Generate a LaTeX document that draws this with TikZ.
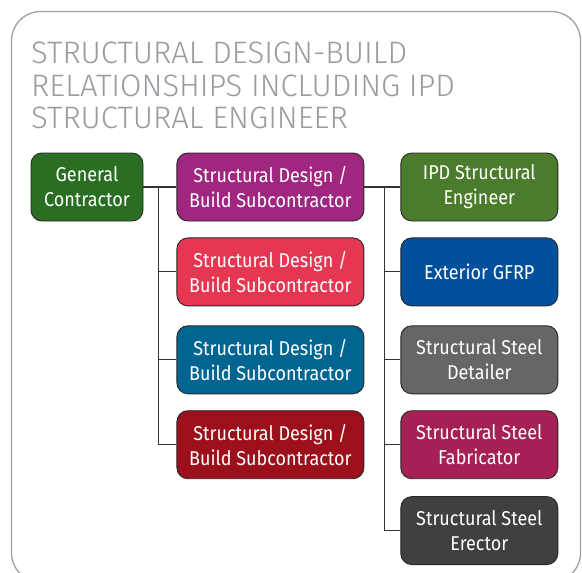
\documentclass[tikz,border=0pt]{standalone}
\usepackage{fontspec}
\setmainfont{Fira Sans}
\IfFontExistsTF{Fira Sans Light}
  {\newfontfamily\headfont{Fira Sans Light}}
  {\newfontfamily\headfont{Fira Sans}}
\newfontfamily\boxfont[FakeStretch=0.9]{Fira Sans}
\usetikzlibrary{positioning}
\definecolor{framegray}{RGB}{160,160,162}
\definecolor{headgray}{RGB}{153,155,160}
\definecolor{edgedark}{RGB}{40,40,40}
\definecolor{linkdark}{RGB}{50,50,50}
\definecolor{gcgreen}{RGB}{42,110,36}
\definecolor{subpurple}{RGB}{160,38,128}
\definecolor{subrose}{RGB}{229,54,82}
\definecolor{subteal}{RGB}{0,101,145}
\definecolor{subcrimson}{RGB}{155,16,26}
\definecolor{ipdgreen}{RGB}{74,124,43}
\definecolor{gfrpblue}{RGB}{0,80,155}
\definecolor{detgray}{RGB}{102,102,104}
\definecolor{fabwine}{RGB}{165,32,84}
\definecolor{ereccoal}{RGB}{64,64,66}

\begin{document}
\begin{tikzpicture}[
  x=1pt, y=-1pt,
  box/.style={draw=edgedark, line width=0.9pt, rounded corners=11pt,
              minimum height=68pt, inner sep=0pt, align=center,
              text=white, font=\boxfont\fontsize{20}{25}\selectfont},
  gcbox/.style={box, minimum width=112pt},
  subbox/.style={box, minimum width=187pt},
  tradebox/.style={box, minimum width=157pt},
  link/.style={draw=linkdark, line width=1.1pt}
]
\useasboundingbox (0,0) rectangle (582,573);
\draw[framegray, line width=1.3pt, rounded corners=29pt]
  (11.5,11.5) rectangle (580.5,582);

\node[anchor=north west, inner sep=0pt, align=left, text=headgray,
      font=\headfont\fontsize{31}{32.5}\selectfont] (title) at (31,42)
  {STRUCTURAL DESIGN-BUILD\\RELATIONSHIPS INCLUDING IPD\\STRUCTURAL ENGINEER};

% general contractor and the four design/build subs
\node[gcbox, fill=gcgreen] (gc) at (87,187) {General\\Contractor};
\node[subbox, fill=subpurple, right=33pt of gc] (sub1)
  {Structural Design /\\Build Subcontractor};
\node[subbox, fill=subrose, below=16pt of sub1] (sub2)
  {Structural Design /\\Build Subcontractor};
\node[subbox, fill=subteal, below=19pt of sub2] (sub3)
  {Structural Design /\\Build Subcontractor};
\node[subbox, fill=subcrimson, below=16pt of sub3] (sub4)
  {Structural Design /\\Build Subcontractor};

% trades under the first sub
\node[tradebox, fill=ipdgreen, right=36pt of sub1] (ipd)
  {IPD Structural\\Engineer};
\node[tradebox, fill=gfrpblue, below=16pt of ipd] (gfrp) {Exterior GFRP};
\node[tradebox, fill=detgray, below=19pt of gfrp] (detail)
  {Structural Steel\\Detailer};
\node[tradebox, fill=fabwine, below=16pt of detail] (fab)
  {Structural Steel\\Fabricator};
\node[tradebox, fill=ereccoal, below=17pt of fab] (erect)
  {Structural Steel\\Erector};

% connectors
\coordinate[right=15pt of gc.east] (lsplit);
\coordinate[right=20pt of sub1.east] (rsplit);
\draw[link] (gc) -- (sub1);
\foreach \n in {sub2,sub3,sub4}
  \draw[link] (lsplit) |- (\n);
\draw[link] (sub1) -- (ipd);
\foreach \n in {gfrp,detail,fab,erect}
  \draw[link] (rsplit) |- (\n);
\end{tikzpicture}
\end{document}
